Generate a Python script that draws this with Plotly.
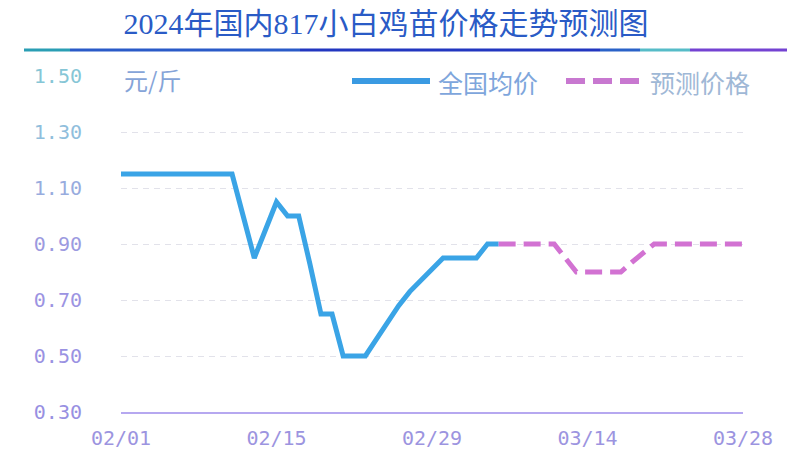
import pandas as pd
import plotly.graph_objects as go

# ---------------- data ----------------
actual_start = "2024-02-01"
actual_values = [1.15, 1.15, 1.15, 1.15, 1.15, 1.15, 1.15, 1.15, 1.15, 1.15, 1.15,  # 02/01-02/11
                 1.00, 0.85, 0.95, 1.05, 1.00, 1.00, 0.83, 0.65, 0.65,             # 02/12-02/20
                 0.50, 0.50, 0.50, 0.56, 0.62, 0.68, 0.73, 0.77, 0.81,             # 02/21-02/29
                 0.85, 0.85, 0.85, 0.85, 0.90, 0.90]                               # 03/01-03/06
forecast_start = "2024-03-06"
forecast_values = [0.90, 0.90, 0.90, 0.90, 0.90, 0.90, 0.85, 0.80,   # 03/06-03/13
                   0.80, 0.80, 0.80, 0.80, 0.835, 0.87, 0.90,        # 03/14-03/20
                   0.90, 0.90, 0.90, 0.90, 0.90, 0.90, 0.90, 0.90]   # 03/21-03/28
x_tick_dates = ["2024-02-01", "2024-02-15", "2024-02-29", "2024-03-14", "2024-03-28"]
x_tick_labels = ["02/01", "02/15", "02/29", "03/14", "03/28"]
y_tick_values = [0.30, 0.50, 0.70, 0.90, 1.10, 1.30, 1.50]
y_tick_colors = ["#9890e2", "#9a92e2", "#9c94e2", "#9c9ae0", "#98acde", "#90bedc", "#86c6d6"]
series_names = ["全国均价", "预测价格"]
title_text = "2024年国内817小白鸡苗价格走势预测图"
unit_text = "元/斤"

actual_dates = pd.date_range(actual_start, periods=len(actual_values), freq="D")
forecast_dates = pd.date_range(forecast_start, periods=len(forecast_values), freq="D")

# ---------------- layout geometry ----------------
# the page places the figure 8px from the top-left corner, so the figure is
# 8px smaller and everything measured on the reference is shifted by 8px.
OFF = 8
W, H = 800 - OFF, 456 - OFF
ML, MT = 121 - OFF, 76 - OFF
PW, PH = 622, 336
MR, MB = W - ML - PW, H - MT - PH


def px(x):
    return (x - OFF - ML) / PW


def py(y):
    return (H - MB - (y - OFF)) / PH


BLUE = "#3aa4e6"
PINK = "#d272d2"

fig = go.Figure()
fig.add_trace(go.Scatter(x=actual_dates, y=actual_values, mode="lines", name=series_names[0],
                         line=dict(color=BLUE, width=5), showlegend=False))
fig.add_trace(go.Scatter(x=forecast_dates, y=forecast_values, mode="lines", name=series_names[1],
                         line=dict(color=PINK, width=5, dash="17px,8px"), showlegend=False))

mono = "DejaVu Sans Mono, Liberation Mono, monospace"
cjk = "Noto Sans CJK SC, Noto Sans, sans-serif"

fig.update_layout(
    width=W, height=H,
    margin=dict(l=ML, r=MR, t=MT, b=MB, autoexpand=False),
    paper_bgcolor="white", plot_bgcolor="white",
    title=dict(text=title_text, x=(386 - OFF) / W, xanchor="center", y=1 - (23 - OFF) / H, yanchor="middle",
               font=dict(family="Liberation Serif, Noto Sans CJK SC, serif", size=30, color="#2a5bc6")),
    xaxis=dict(range=[actual_start, x_tick_dates[-1]], tickmode="array",
               tickvals=x_tick_dates, ticktext=x_tick_labels, automargin=False,
               showgrid=False, zeroline=False, showline=True, linecolor="#b6a8f0", linewidth=2,
               ticks="", ticklabelstandoff=7,
               tickfont=dict(family=mono, size=20, color="#9c94e0")),
    yaxis=dict(range=[0.30, 1.50], tickmode="array", tickvals=y_tick_values, automargin=False,
               ticktext=[f'<span style="color:{c}">{v:.2f}</span>' for v, c in zip(y_tick_values, y_tick_colors)],
               showgrid=True, gridcolor="#e2e2ea", gridwidth=1, griddash="6px,5px",
               zeroline=False, showline=False, ticks="", ticklabelstandoff=38,
               tickfont=dict(family=mono, size=20, color="#9a94e0")),
)

# separator line under the title (multi-coloured to mimic gradient)
sep_segments = [(24, 70, "#2a9eb4"), (70, 300, "#2a5ac8"), (300, 600, "#2236c0"),
                (600, 640, "#2a62c8"), (640, 690, "#56bcc8"), (690, 787, "#7442d2")]
for x0, x1, c in sep_segments:
    fig.add_shape(type="line", xref="paper", yref="paper", x0=px(x0), x1=px(x1),
                  y0=py(50), y1=py(50), line=dict(color=c, width=3))

# unit label
fig.add_annotation(xref="paper", yref="paper", x=px(122), y=py(80), xanchor="left", yanchor="middle",
                   text=unit_text, showarrow=False, font=dict(family=cjk, size=24, color="#86a4d8"))

# manual legend
fig.add_shape(type="line", xref="paper", yref="paper", x0=px(352), x1=px(430), y0=py(81), y1=py(81),
              line=dict(color="#3a9ae2", width=6))
fig.add_annotation(xref="paper", yref="paper", x=px(436), y=py(82), xanchor="left", yanchor="middle",
                   text=series_names[0], showarrow=False, font=dict(family=cjk, size=25, color="#7ea6dc"))
fig.add_shape(type="line", xref="paper", yref="paper", x0=px(566), x1=px(640), y0=py(81), y1=py(81),
              line=dict(color="#c878d0", width=6, dash="19px,8px"))
fig.add_annotation(xref="paper", yref="paper", x=px(648), y=py(82), xanchor="left", yanchor="middle",
                   text=series_names[1], showarrow=False, font=dict(family=cjk, size=25, color="#9fb8d6"))

fig.write_html("out.html")
